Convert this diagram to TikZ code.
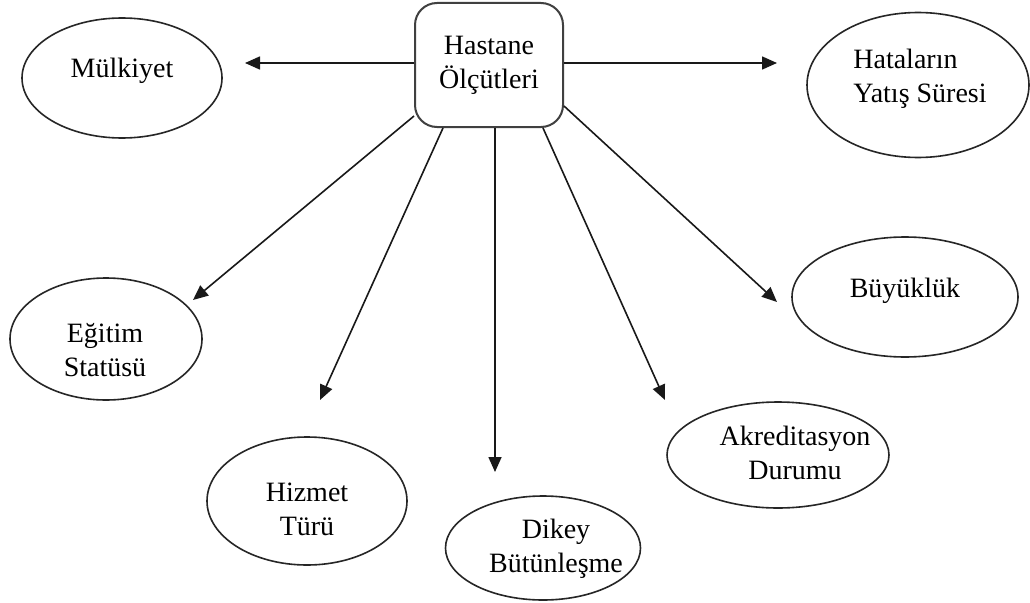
\documentclass[tikz,border=0pt]{standalone}
\usepackage{fontspec}
\setmainfont{Liberation Serif}
\usetikzlibrary{arrows.meta,shapes.geometric}

\tikzset{
  hubbox/.style={draw=black!75, line width=2pt, rounded corners=22pt,
    minimum width=148pt, minimum height=124pt, inner sep=0pt, align=center},
  oval/.style={ellipse, draw=black!85, line width=1.6pt, inner sep=0pt},
  lbl/.style={align=center, inner sep=0pt},
  arr/.style={draw=black!90, line width=1.6pt,
    -{Triangle[length=15pt,width=13pt]}},
}

\begin{document}
\begin{tikzpicture}[x=1pt,y=-1pt,font=\fontsize{28}{34}\selectfont]
  \useasboundingbox[fill=white] (0,0) rectangle (1030,602);

  % central box
  \node[hubbox] (hub) at (489,65) {Hastane\\Ölçütleri};

  % surrounding ellipses
  \node[oval, minimum width=200pt, minimum height=120pt] (mulk)  at (122,78)  {};
  \node[oval, minimum width=222pt, minimum height=145pt] (hata)  at (918,85)  {};
  \node[oval, minimum width=192pt, minimum height=122pt] (egit)  at (106,339) {};
  \node[oval, minimum width=200pt, minimum height=128pt] (hizm)  at (307,501) {};
  \node[oval, minimum width=195pt, minimum height=104pt] (dikey) at (543,548) {};
  \node[oval, minimum width=222pt, minimum height=106pt] (akred) at (778,455) {};
  \node[oval, minimum width=226pt, minimum height=120pt] (buyuk) at (905,297) {};

  % labels inside the ellipses
  \node[lbl] (tmulk)  at (122,71)  {Mülkiyet};
  \node[lbl, align=left] (thata) at (920,79) {Hataların\\Yatış Süresi};
  \node[lbl] (tegit)  at (105,350) {Eğitim\\Statüsü};
  \node[lbl] (thizm)  at (307,509) {Hizmet\\Türü};
  \node[lbl] (tdikey) at (556,549) {Dikey\\Bütünleşme};
  \node[lbl] (takred) at (795,453) {Akreditasyon\\Durumu};
  \node[lbl] (tbuyuk) at (905,291) {Büyüklük};

  % arrow tips, short of the ellipses
  \coordinate (pmulk)  at (245,63);
  \coordinate (phata)  at (777,63);
  \coordinate (pegit)  at (193,300);
  \coordinate (phizm)  at (320,400);
  \coordinate (pdikey) at (495,472);
  \coordinate (pakred) at (665,400);
  \coordinate (pbuyuk) at (777,302);

  % connectors from the central box
  \draw[arr] ([yshift=2pt]hub.west) -- (pmulk);
  \draw[arr] ([yshift=2pt]hub.east) -- (phata);
  \draw[arr] ([yshift=12pt]hub.south west) -- (pegit);
  \draw[arr] ([xshift=-46pt]hub.south) -- (phizm);
  \draw[arr] ([xshift=6pt]hub.south) -- (pdikey);
  \draw[arr] ([xshift=54pt]hub.south) -- (pakred);
  \draw[arr] ([yshift=22pt]hub.south east) -- (pbuyuk);
\end{tikzpicture}
\end{document}
